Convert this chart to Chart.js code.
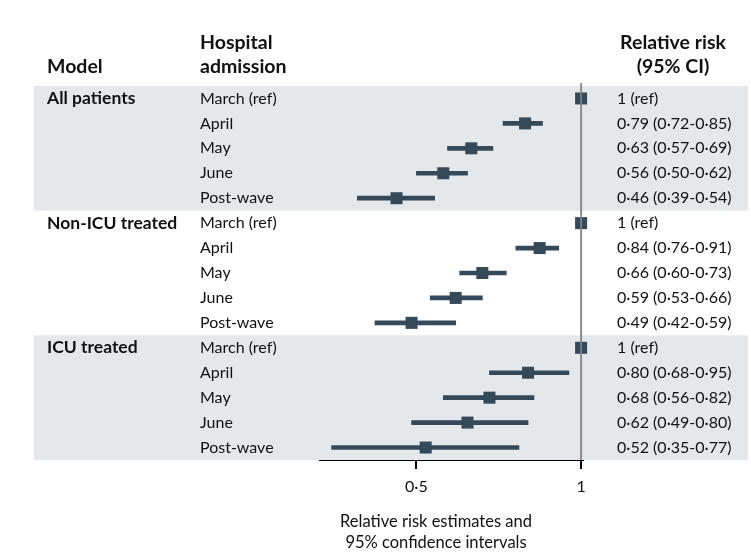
<!DOCTYPE html>
<html>
<head>
<meta charset="utf-8">
<script src="https://cdn.jsdelivr.net/npm/chart.js@4"></script>
<style>
html,body{margin:0;padding:0;background:#fff;}
#wrap{width:751px;height:554px;position:relative;}
</style>
</head>
<body>
<div id="wrap"><canvas id="c" width="751" height="554"></canvas></div>
<script>
// ---- data ----
const groups = ['All patients', 'Non-ICU treated', 'ICU treated'];
const periods = ['March (ref)', 'April', 'May', 'June', 'Post-wave'];
const rr = [1, 0.79, 0.63, 0.56, 0.46,   1, 0.84, 0.66, 0.59, 0.49,   1, 0.80, 0.68, 0.62, 0.52];
const lo = [null, 0.72, 0.57, 0.50, 0.39, null, 0.76, 0.60, 0.53, 0.42, null, 0.68, 0.56, 0.49, 0.35];
const hi = [null, 0.85, 0.69, 0.62, 0.54, null, 0.91, 0.73, 0.66, 0.59, null, 0.95, 0.82, 0.80, 0.77];
const xTicks = [0.5, 1];
const headers = { model: 'Model', adm: ['Hospital', 'admission'], rr: ['Relative risk', '(95% CI)'] };
const axisTitle = ['Relative risk estimates and', '95% confidence intervals'];

const FONT = 'Lato';
const MARK = '#34495a';
const BAND = '#e4e8eb';
const fmt = v => v.toFixed(2).replace('.', '\u00b7');
const fmtTick = v => (v === 1 ? '1' : String(v).replace('.', '\u00b7'));

const rowLabels = [];
const rowPeriods = [];
const rowGroupStart = [];
groups.forEach((g, gi) => periods.forEach((p, pi) => {
  rowLabels.push(g + ' | ' + p);
  rowPeriods.push(p);
  rowGroupStart.push(pi === 0 ? g : null);
}));
const rrText = rr.map((v, i) => lo[i] == null ? '1 (ref)' : fmt(v) + ' (' + fmt(lo[i]) + '-' + fmt(hi[i]) + ')');

const tablePlugin = {
  id: 'table',
  beforeDatasetsDraw(chart) {
    const ctx = chart.ctx, y = chart.scales.y;
    const half = (y.getPixelForValue(1) - y.getPixelForValue(0)) / 2;
    ctx.save();
    ctx.fillStyle = BAND;
    groups.forEach((g, gi) => {
      if (gi % 2 === 1) return;
      const first = gi * periods.length, last = first + periods.length - 1;
      const t = y.getPixelForValue(first) - half, b = y.getPixelForValue(last) + half;
      ctx.fillRect(34, t, 748 - 34, b - t);
    });
    ctx.restore();
  },
  afterDatasetsDraw(chart) {
    const ctx = chart.ctx, x = chart.scales.x, y = chart.scales.y;
    ctx.save();
    // reference line at 1
    const x1 = x.getPixelForValue(1);
    ctx.strokeStyle = 'rgba(130,130,130,0.9)';
    ctx.lineWidth = 2;
    ctx.beginPath();
    ctx.moveTo(x1, 83);
    ctx.lineTo(x1, chart.chartArea.bottom);
    ctx.stroke();

    ctx.fillStyle = '#111';
    ctx.textBaseline = 'middle';
    // headers
    ctx.font = 'bold 19.5px ' + FONT;
    ctx.textAlign = 'left';
    ctx.fillText(headers.model, 47, 67);
    ctx.fillText(headers.adm[0], 200, 43);
    ctx.fillText(headers.adm[1], 200, 67);
    ctx.textAlign = 'center';
    ctx.fillText(headers.rr[0], 673, 43);
    ctx.fillText(headers.rr[1], 673, 67);
    // rows
    rowLabels.forEach((lab, i) => {
      const py = y.getPixelForValue(i);
      ctx.textAlign = 'left';
      if (rowGroupStart[i]) {
        ctx.font = 'bold 17.5px ' + FONT;
        ctx.fillText(rowGroupStart[i], 47, py);
      }
      ctx.font = '16px ' + FONT;
      ctx.fillText(rowPeriods[i], 200, py);
      ctx.fillText(rrText[i], 617, py);
    });
    // axis title
    ctx.font = '16.5px ' + FONT;
    ctx.textAlign = 'center';
    ctx.fillText(axisTitle[0], 436, 522);
    ctx.fillText(axisTitle[1], 436, 543);
    ctx.restore();
  }
};

new Chart(document.getElementById('c'), {
  type: 'bar',
  data: {
    labels: rowLabels,
    datasets: [
      {
        type: 'bar',
        indexAxis: 'y',
        data: lo.map((l, i) => l == null ? null : [l, hi[i]]),
        backgroundColor: MARK,
        barThickness: 4,
        order: 2
      },
      {
        type: 'line',
        indexAxis: 'y',
        data: rr,
        showLine: false,
        clip: false,
        pointStyle: 'rect',
        pointRadius: 8.5,
        pointBackgroundColor: MARK,
        pointBorderWidth: 0,
        order: 1
      }
    ]
  },
  options: {
    indexAxis: 'y',
    responsive: false,
    animation: false,
    events: [],
    layout: { padding: { left: 320, right: 751 - 583, top: 86, bottom: 0 } },
    plugins: { legend: { display: false }, tooltip: { enabled: false } },
    scales: {
      y: { type: 'category', display: false, offset: true },
      x: {
        type: 'logarithmic',
        position: 'bottom',
        min: 1 / 3,
        max: 1.008,
        afterBuildTicks: s => { s.ticks = xTicks.map(v => ({ value: v })); },
        afterFit: s => { s.height = 94; },
        ticks: {
          callback: v => fmtTick(v),
          color: '#111',
          font: { family: FONT, size: 16 },
          padding: 8,
          maxRotation: 0,
          autoSkip: false
        },
        grid: { drawOnChartArea: false, drawTicks: true, tickLength: 9, color: '#000', lineWidth: 2 },
        border: { display: true, color: '#000', width: 2 }
      }
    }
  },
  plugins: [tablePlugin]
});
</script>
</body>
</html>
